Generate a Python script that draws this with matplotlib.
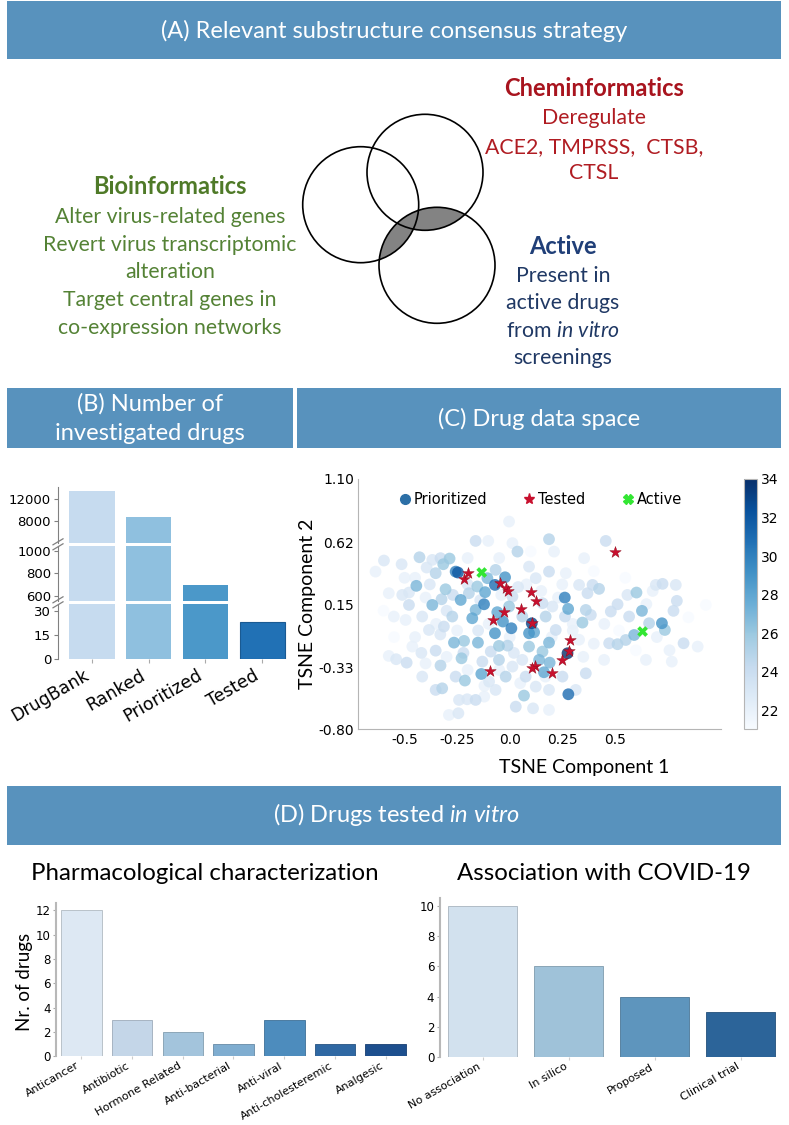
import matplotlib
matplotlib.use('Agg')
import matplotlib.pyplot as plt
from matplotlib.patches import Rectangle, Circle
from matplotlib.lines import Line2D
import numpy as np

plt.rcParams['font.family'] = ['DejaVu Sans']
plt.rcParams['mathtext.fontset'] = 'custom'
plt.rcParams['mathtext.rm'] = 'Lato'
plt.rcParams['mathtext.it'] = 'Lato:italic'

W, H = 789, 1125

# (B) number of investigated drugs
stages = ['DrugBank', 'Ranked', 'Prioritized', 'Tested']
stage_counts = [13500, 8700, 690, 23]
stage_colors = ['#c6dbef', '#8fc0df', '#4b98c9', '#2171b5']

# (C) drug data space (t-SNE), prioritized drugs coloured by score
prio_x = [
    -0.003, -0.162, -0.102, 0.013, 0.037, 0.187, 0.211, 0.457, 0.354, -0.598,
    -0.638, -0.514, -0.429, -0.368, -0.329, -0.286, -0.316, -0.246, -0.257, -0.352,
    -0.395, -0.444, -0.479, -0.368, -0.324, -0.305, -0.233, -0.178, -0.162, -0.117,
    -0.122, -0.070, -0.022, -0.067, -0.059, -0.032, 0.008, -0.070, 0.092, 0.116,
    0.105, 0.262, 0.278, 0.263, 0.187, 0.156, 0.275, 0.190, 0.163, 0.279,
    0.362, -0.135, -0.213, -0.321, -0.229, -0.265, -0.217, -0.151, -0.051, -0.010,
    -0.090, -0.051, 0.029, 0.068, 0.111, 0.187, -0.289, -0.244, -0.202, -0.121,
    -0.490, -0.540, -0.575, -0.463, 0.362, 0.346, 0.386, 0.425, 0.370, 0.513,
    0.481, 0.560, 0.603, 0.629, 0.592, 0.724, 0.738, 0.779, 0.795, 0.827,
    0.894, 0.933, 0.473, 0.513, 0.552, 0.663, 0.695, 0.727, 0.790, 0.771,
    0.648, 0.449, 0.330, 0.394, 0.568, -0.273, -0.313, -0.384, -0.416, -0.495,
    -0.551, -0.352, -0.329, -0.416, -0.352, -0.257, -0.130, -0.098, -0.019, 0.013,
    0.076, 0.124, 0.187, 0.314, 0.251, -0.162, -0.067, -0.241, -0.479, -0.511,
    -0.575, -0.003, 0.060, 0.171, 0.156, 0.203, 0.219, 0.092, 0.060, 0.140,
    -0.154, -0.194, -0.106, 0.013, 0.124, 0.187, 0.267, 0.092, -0.45, -0.40,
    -0.30, -0.20, -0.25, -0.15, -0.10, -0.35, -0.45, -0.30, -0.20, -0.05,
    0.05, 0.20, 0.30, 0.25, 0.40, 0.55, 0.65, 0.70, 0.60, 0.85,
    -0.60, -0.55, 0.35, 0.40, -0.05, 0.10, -0.20, -0.40, 0.00, 0.08,
    0.30, 0.45, -0.50, -0.38, -0.27, -0.14, -0.04, 0.04, 0.15, 0.23,
    -0.42, -0.33, -0.22, -0.12, 0.02, 0.17, 0.33, 0.52, 0.68, 0.76,
]
prio_y = [
    0.777, 0.630, 0.630, 0.613, 0.549, 0.643, 0.549, 0.630, 0.499, 0.481,
    0.397, 0.453, 0.506, 0.486, 0.499, 0.496, 0.453, 0.390, 0.397, 0.385,
    0.428, 0.289, 0.238, 0.144, 0.187, 0.263, 0.182, 0.043, 0.106, 0.241,
    0.149, 0.296, 0.354, 0.410, 0.089, 0.018, -0.033, -0.071, -0.071, -0.063,
    0.005, 0.200, 0.114, 0.056, -0.142, -0.210, -0.223, -0.294, -0.367, -0.534,
    -0.375, -0.380, -0.430, -0.489, -0.261, -0.142, -0.129, -0.142, -0.167, -0.165,
    -0.210, -0.273, -0.628, -0.544, -0.641, -0.653, -0.691, -0.678, -0.572, -0.552,
    -0.294, -0.268, -0.243, -0.172, 0.106, 0.010, 0.068, 0.266, 0.233, 0.149,
    0.094, 0.220, 0.238, 0.099, -0.084, 0.005, -0.046, 0.099, 0.175, -0.147,
    -0.172, 0.144, -0.147, -0.154, -0.122, 0.005, 0.296, 0.304, 0.296, -0.286,
    -0.273, -0.273, 0.296, 0.296, 0.056, 0.056, -0.020, -0.046, 0.056, 0.030,
    0.056, -0.203, -0.316, -0.400, -0.501, -0.400, -0.286, -0.438, -0.400, -0.324,
    -0.400, -0.476, -0.501, -0.501, -0.400, -0.577, -0.501, -0.577, 0.144, 0.220,
    0.233, 0.132, 0.056, 0.056, 0.157, 0.132, -0.046, -0.172, -0.273, -0.273,
    0.284, 0.233, 0.347, 0.208, 0.347, 0.397, 0.385, 0.435, 0.35, 0.20,
    0.10, 0.30, -0.05, -0.05, 0.00, 0.00, -0.10, -0.25, -0.35, -0.35,
    -0.45, -0.10, -0.05, 0.30, 0.40, 0.35, 0.15, -0.10, -0.20, 0.05,
    0.10, -0.10, -0.25, -0.15, 0.50, 0.55, 0.50, -0.30, -0.10, 0.30,
    0.00, 0.00, 0.35, 0.30, 0.22, 0.18, 0.22, 0.28, 0.25, 0.20,
    -0.22, -0.08, -0.22, -0.47, -0.22, -0.40, -0.12, -0.05, 0.25, -0.20,
]
prio_v = [
    22, 24, 22, 22, 25, 25, 22, 24, 22, 23,
    22, 23, 25, 23, 24, 26, 26, 32, 30, 25,
    23, 27, 23, 27, 25, 26, 28, 28, 27, 28,
    30, 31, 29, 25, 28, 29, 30, 29, 29, 28,
    33, 30, 28, 24, 27, 26, 34, 27, 28, 31,
    24, 28, 26, 25, 26, 27, 26, 27, 26, 25,
    24, 25, 24, 26, 23, 22, 22, 23, 23, 22,
    24, 23, 22, 22, 25, 26, 24, 25, 24, 24,
    24, 23, 26, 27, 27, 29, 26, 24, 24, 24,
    22, 21, 24, 25, 25, 25, 23, 24, 23, 22,
    22, 22, 23, 24, 24, 25, 24, 23, 23, 22,
    22, 24, 25, 23, 24, 24, 24, 23, 25, 23,
    24, 23, 23, 23, 24, 24, 23, 23, 24, 23,
    22, 26, 25, 25, 24, 23, 24, 26, 23, 27,
    26, 25, 27, 24, 23, 24, 22, 23, 22, 22,
    23, 23, 22, 23, 22, 22, 22, 22, 22, 22,
    22, 22, 22, 22, 21, 21, 22, 22, 21, 21,
    21, 21, 22, 22, 22, 21, 22, 22, 22, 22,
    22, 22, 22, 23, 24, 23, 22, 23, 22, 22,
    23, 23, 24, 22, 23, 22, 22, 21, 22, 22,
]
tested_x = [-0.217, -0.197, -0.048, -0.016, -0.008, 0.100, 0.124, -0.025, 0.052, -0.079,
            0.287, 0.251, 0.121, 0.108, 0.200, -0.095, 0.500, 0.105, 0.283]
tested_y = [0.342, 0.385, 0.309, 0.271, 0.251, 0.246, 0.177, 0.089, 0.111, 0.030,
            -0.122, -0.273, -0.316, -0.337, -0.375, -0.354, 0.544, 0.005, -0.203]
active_x = [-0.133, 0.632]
active_y = [0.390, -0.058]

# (D) drugs tested in vitro
pharm_labels = ['Anticancer', 'Antibiotic', 'Hormone Related', 'Anti-bacterial',
                'Anti-viral', 'Anti-cholesteremic', 'Analgesic']
pharm_counts = [12, 3, 2, 1, 3, 1, 1]
pharm_colors = ['#dde8f3', '#c4d6e8', '#a3c4dc', '#7fadd0', '#4d8cbd', '#2f68a3', '#1d4f8e']
assoc_labels = ['No association', 'In silico', 'Proposed', 'Clinical trial']
assoc_counts = [10, 6, 4, 3]
assoc_colors = ['#d2e1ee', '#9fc2d9', '#5e95bd', '#2c6499']

HEAD = '#5892bd'
SANS = 'Lato'


def box(x0, y0, x1, y1):
    return [x0 / W, 1 - y1 / H, (x1 - x0) / W, (y1 - y0) / H]


fig = plt.figure(figsize=(W / 100, H / 100), dpi=100)
bg = fig.add_axes([0, 0, 1, 1])
bg.set_xlim(0, W)
bg.set_ylim(H, 0)
bg.axis('off')

# header bars
for x0, y0, x1, y1 in [(7, 1, 781, 59), (7, 388, 293, 448), (297, 388, 781, 448), (7, 786, 781, 845)]:
    bg.add_patch(Rectangle((x0, y0), x1 - x0, y1 - y0, facecolor=HEAD, edgecolor='none'))
hkw = dict(color='white', family=SANS, fontsize=17, ha='center', va='center')
bg.text(394, 31, '(A) Relevant substructure consensus strategy', **hkw)
bg.text(150, 404, '(B) Number of', **hkw)
bg.text(150, 434, 'investigated drugs', **hkw)
bg.text(539, 419, '(C) Drug data space', **hkw)
bg.text(396, 815, r'(D) Drugs tested $\mathit{in\ vitro}$', **hkw)

# Venn diagram
r = 58
c_left, c_top, c_bot = (360.7, 204.7), (425, 172.3), (437, 265.3)
bot_outline = Circle(c_bot, r, fill=False, edgecolor='black', lw=1.2, zorder=3)
bg.add_patch(bot_outline)
for c in (c_left, c_top):
    shade = Circle(c, r, facecolor='#838383', edgecolor='none', zorder=2)
    bg.add_patch(shade)
    shade.set_clip_path(bot_outline)
    bg.add_patch(Circle(c, r, fill=False, edgecolor='black', lw=1.2, zorder=3))

red_b, red = '#a8141e', '#b01c22'
green_b, green = '#4f7a28', '#548235'
navy_b, navy = '#203f78', '#1f3864'
tkw = dict(family=SANS, fontsize=15.3, ha='center', va='center')
bkw = dict(family=SANS, fontsize=17, fontweight='bold', ha='center', va='center')
bg.text(594, 88, 'Cheminformatics', color=red_b, **bkw)
for yy, line in zip([118, 147, 173], ['Deregulate', 'ACE2, TMPRSS,  CTSB,', 'CTSL']):
    bg.text(594, yy, line, color=red, **tkw)
bg.text(170, 187, 'Bioinformatics', color=green_b, **bkw)
for yy, line in zip([217, 245, 272, 300, 328],
                    ['Alter virus-related genes', 'Revert virus transcriptomic', 'alteration',
                     'Target central genes in', 'co-expression networks']):
    bg.text(170, yy, line, color=green, **tkw)
bg.text(563, 246, 'Active', color=navy_b, **bkw)
for yy, line in zip([276, 303, 331, 358],
                    ['Present in', 'active drugs', r'from $\mathit{in\ vitro}$', 'screenings']):
    bg.text(563, yy, line, color=navy, **tkw)

# (B) broken-axis bar chart
panels = [((486.7, 542.7), (4000, 14300), [8000, 12000]),
          ((546, 600.7), (555, 1040), [600, 800, 1000]),
          ((604, 659.3), (0, 34.5), [0, 15, 30])]
for i, ((y0, y1), ylim, ticks) in enumerate(panels):
    ax = fig.add_axes(box(58, y0, 290, y1))
    ax.bar(range(len(stages)), stage_counts, width=0.8, color=stage_colors,
           edgecolor=['none', 'none', 'none', '#1a5a92'], linewidth=0.8)
    ax.set_xlim(-0.6, 3.49)
    ax.set_ylim(*ylim)
    ax.set_yticks(ticks)
    ax.set_yticklabels([str(t) for t in ticks], fontsize=9.5)
    for s in ['top', 'right', 'bottom']:
        ax.spines[s].set_visible(False)
    ax.spines['left'].set_color('#808080')
    ax.tick_params(axis='y', length=3, color='#808080', pad=2)
    ax.patch.set_alpha(0)
    if i < 2:
        ax.set_xticks([])
    else:
        ax.set_xticks(range(len(stages)))
        ax.set_xticklabels(stages, rotation=30, ha='right', fontsize=12.5)
        ax.tick_params(axis='x', length=3, color='#aaaaaa', pad=2)
# white gaps and break marks
for yy in (544.3, 602.3):
    bg.add_patch(Rectangle((54, yy - 1.6), 240, 3.2, facecolor='white', edgecolor='none', zorder=5))
    for dy in (-2.5, 2.5):
        bg.plot([53, 63], [yy + dy + 3, yy + dy - 3], color='#808080', lw=0.9, zorder=6)

# (C) t-SNE scatter
px, py, pv = np.array(prio_x), np.array(prio_y), np.array(prio_v)
order = np.argsort(pv, kind='stable')
axc = fig.add_axes(box(358.3, 479, 721, 729.3))
sc = axc.scatter(px[order], py[order], c=pv[order], cmap='Blues', vmin=21, vmax=34,
                 s=72, alpha=0.8, edgecolors='none', zorder=2)
axc.scatter(tested_x, tested_y, marker='*', s=75, color='#c8102e', edgecolors='#8b0a1a',
            linewidths=0.3, zorder=3)
axc.scatter(active_x, active_y, marker='X', s=60, color='#33e633', edgecolors='none', zorder=4)
axc.set_xlim(-0.72, 1.005)
axc.set_ylim(-0.80, 1.10)
axc.set_xticks([-0.5, -0.25, 0.0, 0.25, 0.5])
axc.set_xticklabels(['-0.5', '-0.25', '0.0', '0.25', '0.5'], fontsize=10)
axc.set_yticks([1.10, 0.62, 0.15, -0.33, -0.80])
axc.set_yticklabels(['1.10', '0.62', '0.15', '-0.33', '-0.80'], fontsize=10)
for s in ['top', 'right']:
    axc.spines[s].set_visible(False)
for s in ['left', 'bottom']:
    axc.spines[s].set_color('#b5b5b5')
axc.tick_params(length=0, pad=3)
handles = [Line2D([], [], marker='o', ls='none', color='#2c6fa6', markersize=7),
           Line2D([], [], marker='*', ls='none', color='#c8102e', markersize=8),
           Line2D([], [], marker='X', ls='none', color='#33e633', markersize=7)]
axc.legend(handles, ['Prioritized', 'Tested', 'Active'], loc='upper center',
           bbox_to_anchor=(0.5, 1.0), ncol=3, frameon=False, fontsize=10.5,
           handletextpad=0.1, columnspacing=2.4, handlelength=1.0)
bg.text(308, 604, 'TSNE Component 2', rotation=90, family=SANS, fontsize=14,
        ha='center', va='center')
bg.text(584.5, 767, 'TSNE Component 1', family=SANS, fontsize=14, ha='center', va='center')
cax = fig.add_axes(box(744, 479, 757, 729.3))
cb = fig.colorbar(sc, cax=cax)
cb.solids.set_alpha(1)
cb.set_ticks([22, 24, 26, 28, 30, 32, 34])
cb.ax.tick_params(labelsize=10, length=0, pad=3)
cb.outline.set_edgecolor('#b5b5b5')

# (D) bar charts
for (x0, y0, x1, y1), labels, counts, colors, title, tx in [
        ((56, 903, 411, 1056.3), pharm_labels, pharm_counts, pharm_colors,
         'Pharmacological characterization', 205),
        ((439.8, 898.3, 783.8, 1057.3), assoc_labels, assoc_counts, assoc_colors,
         'Association with COVID-19', 604)]:
    ax = fig.add_axes(box(x0, y0, x1, y1))
    edge = [tuple(0.8 * np.array(matplotlib.colors.to_rgb(c))) for c in colors]
    ax.bar(range(len(labels)), counts, width=0.8, color=colors, edgecolor=edge, linewidth=0.6)
    ax.set_xlim(-0.5, len(labels) - 0.5)
    ax.set_ylim(0, max(counts) * 1.05)
    ax.set_yticks(range(0, max(counts) + 1, 2))
    ax.tick_params(axis='y', labelsize=8.5, length=2, color='#aaaaaa', pad=2)
    ax.set_xticks(range(len(labels)))
    ax.set_xticklabels(labels, rotation=30, ha='right', fontsize=8)
    ax.tick_params(axis='x', length=2, color='#cccccc', pad=1)
    for s in ['top', 'right', 'bottom']:
        ax.spines[s].set_visible(False)
    ax.spines['left'].set_color('#b8b8b8')
    ax.spines['left'].set_linewidth(1.5)
    ax.patch.set_alpha(0)
    bg.text(tx, 873, title, family=SANS, fontsize=17.3, ha='center', va='center')
bg.text(25, 982, 'Nr. of drugs', rotation=90, family=SANS, fontsize=13.5, ha='center', va='center')

fig.savefig('out.png', dpi=100)
